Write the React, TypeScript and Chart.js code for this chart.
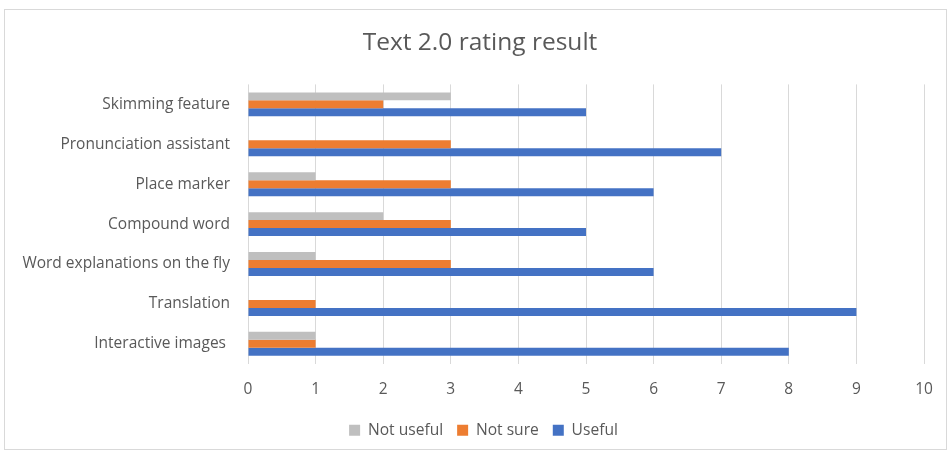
import React, { useEffect, useRef } from "react";
import { Chart, registerables } from "chart.js";

Chart.register(...registerables);

const categories = [
  "Skimming feature",
  "Pronunciation assistant",
  "Place marker",
  "Compound word",
  "Word explanations on the fly",
  "Translation",
  "Interactive images ",
];
const notUseful = [3, 0, 1, 2, 1, 0, 1];
const notSure = [2, 3, 3, 3, 3, 1, 1];
const useful = [5, 7, 6, 5, 6, 9, 8];
const xTicks = [0, 1, 2, 3, 4, 5, 6, 7, 8, 9, 10];

const FONT = "'Open Sans', 'Liberation Sans', sans-serif";
const TEXT = "#595959";

const shiftBlocks = {
  id: "shiftBlocks",
  afterLayout(chart: any) {
    const t = chart.titleBlock;
    if (t) {
      t.left += 15.5;
      t.right += 15.5;
    }
    const l = chart.legend;
    if (l) {
      l.left += 19;
      l.right += 19;
    }
  },
};

export default function App() {
  const ref = useRef<HTMLCanvasElement | null>(null);
  useEffect(() => {
    if (!ref.current) return;
    const chart = new Chart(ref.current, {
      type: "bar",
      data: {
        labels: categories,
        datasets: [
          { label: "Not useful", data: notUseful, backgroundColor: "#bfbfbf" },
          { label: "Not sure", data: notSure, backgroundColor: "#ed7d31" },
          { label: "Useful", data: useful, backgroundColor: "#4472c4" },
        ],
      },
      options: {
        indexAxis: "y",
        animation: false,
        responsive: false,
        maintainAspectRatio: false,
        datasets: { bar: { categoryPercentage: 0.6, barPercentage: 1.0 } },
        layout: { padding: { left: 5, right: 27, top: 10, bottom: 5 } },
        scales: {
          x: {
            min: 0,
            max: 10,
            afterBuildTicks: (s: any) => {
              s.ticks = xTicks.map((v) => ({ value: v }));
            },
            afterFit: (s: any) => {
              s.height -= 6;
            },
            grid: { color: "#d9d9d9", drawTicks: false },
            border: { display: false },
            ticks: { color: TEXT, font: { family: FONT, size: 15.5 }, padding: 16 },
          },
          y: {
            grid: { display: false, drawTicks: false },
            border: { display: false },
            ticks: { color: TEXT, font: { family: FONT, size: 15.5 }, padding: 18 },
            afterFit: (s: any) => {
              s.width = 243;
            },
          },
        },
        plugins: {
          title: {
            display: true,
            text: "Text 2.0 rating result",
            color: TEXT,
            font: { family: FONT, size: 24.5, weight: "normal" },
            padding: { top: 18, bottom: 27 },
          },
          legend: {
            position: "bottom",
            labels: {
              color: TEXT,
              font: { family: FONT, size: 15.6 },
              boxWidth: 11,
              boxHeight: 11,
              padding: 14,
            },
          },
          tooltip: { enabled: false },
        },
      },
      plugins: [shiftBlocks],
    });
    return () => chart.destroy();
  }, []);
  return (
    <div style={{ position: "absolute", left: 0, top: 0, width: 951, height: 453, background: "#fff" }}>
      <div
        style={{
          position: "absolute",
          left: 4,
          top: 9,
          width: 943,
          height: 441,
          border: "1px solid #d9d9d9",
          boxSizing: "border-box",
        }}
      />
      <canvas ref={ref} width={951} height={453} style={{ position: "absolute", left: 0, top: 0 }} />
    </div>
  );
}
